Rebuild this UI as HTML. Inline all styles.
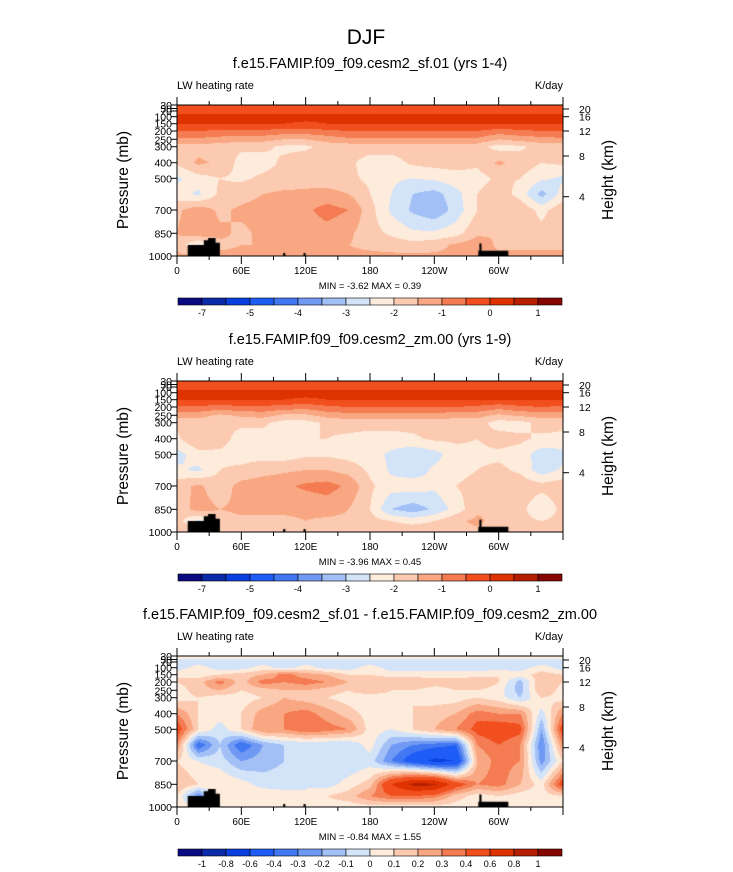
<!DOCTYPE html>
<html><head><meta charset="utf-8"><style>
body{margin:0;background:#fff;width:733px;height:872px;overflow:hidden;position:relative;font-family:"Liberation Sans",sans-serif}
canvas{position:absolute}
svg{position:absolute;left:0;top:0}
</style></head><body>
<canvas id="c1" width="386" height="151" style="left:177px;top:105px"></canvas>
<canvas id="c2" width="386" height="151" style="left:177px;top:381px"></canvas>
<canvas id="c3" width="386" height="151" style="left:177px;top:656px"></canvas>
<svg id="s" width="733" height="872">
<text x="366" y="44" text-anchor="middle" font-size="21">DJF</text>
</svg>
<script>
const lons=[0,20,40,60,80,100,120,140,160,180,200,220,240,260,280,300,320,340,360];
const levs=[30,70,100,150,200,250,300,400,500,600,700,850,925,1000];
const grid1=[
[-0.4,-0.4,-0.4,-0.4,-0.4,-0.4,-0.4,-0.4,-0.4,-0.4,-0.4,-0.4,-0.4,-0.4,-0.4,-0.4,-0.4,-0.4,-0.4],
[-0.2,-0.2,-0.2,-0.2,-0.2,-0.2,-0.2,-0.2,-0.2,-0.2,-0.2,-0.2,-0.2,-0.2,-0.2,-0.2,-0.2,-0.2,-0.2],
[0.2,0.2,0.2,0.2,0.2,0.2,0.2,0.2,0.2,0.2,0.2,0.2,0.2,0.2,0.2,0.2,0.2,0.2,0.2],
[0.05,0.05,0.05,0.05,0.05,0.0,-0.1,0.0,0.05,0.05,0.05,0.05,0.05,0.05,0.05,0.0,0.05,0.05,0.05],
[-0.5,-0.5,-0.6,-0.6,-0.6,-0.7,-0.7,-0.6,-0.5,-0.5,-0.5,-0.5,-0.5,-0.5,-0.5,-0.7,-0.6,-0.5,-0.5],
[-1.1,-1.1,-1.2,-1.3,-1.3,-1.5,-1.5,-1.3,-1.1,-1.1,-1.1,-1.1,-1.1,-1.1,-1.1,-1.5,-1.3,-1.2,-1.1],
[-1.8,-1.7,-1.8,-1.9,-1.9,-2.1,-2.1,-1.8,-1.8,-1.8,-1.8,-1.8,-1.8,-1.8,-1.8,-2.2,-2.1,-1.8,-1.8],
[-1.9,-1.4,-1.6,-2.2,-2.2,-1.9,-1.7,-1.8,-1.9,-2.2,-2.2,-1.9,-1.8,-1.8,-1.9,-1.4,-1.7,-2.0,-1.9],
[-2.6,-2.2,-2.0,-2.1,-1.9,-1.8,-1.7,-1.8,-1.9,-2.1,-2.4,-2.5,-2.4,-2.2,-2.2,-1.9,-2.0,-2.4,-2.6],
[-2.3,-2.6,-1.9,-1.7,-1.5,-1.4,-1.4,-1.3,-1.5,-2.0,-2.5,-3.0,-3.2,-2.7,-2.0,-1.7,-2.2,-3.2,-2.3],
[-1.6,-1.2,-1.6,-1.4,-1.3,-1.2,-1.1,-0.8,-1.0,-1.8,-2.6,-3.1,-3.4,-2.8,-2.0,-1.5,-1.6,-2.2,-1.6],
[-1.5,-1.1,-1.4,-1.6,-1.4,-1.3,-1.3,-1.2,-1.4,-1.8,-2.1,-2.4,-2.4,-2.2,-1.6,-1.5,-1.6,-1.8,-1.5],
[-1.6,-2.6,-1.6,-1.5,-1.5,-1.4,-1.4,-1.4,-1.5,-1.6,-1.7,-1.8,-1.7,-1.4,-1.2,-1.6,-1.6,-1.6,-1.6],
[-1.4,-1.4,-1.4,-1.4,-1.4,-1.4,-1.4,-1.4,-1.4,-1.4,-1.4,-1.4,-1.4,-1.4,-1.4,-1.4,-1.4,-1.4,-1.4]];
const grid2=[
[-0.4,-0.4,-0.4,-0.4,-0.4,-0.4,-0.4,-0.4,-0.4,-0.4,-0.4,-0.4,-0.4,-0.4,-0.4,-0.4,-0.4,-0.4,-0.4],
[-0.2,-0.2,-0.2,-0.2,-0.2,-0.2,-0.2,-0.2,-0.2,-0.2,-0.2,-0.2,-0.2,-0.2,-0.2,-0.2,-0.2,-0.2,-0.2],
[0.2,0.2,0.2,0.2,0.2,0.2,0.2,0.2,0.2,0.2,0.2,0.2,0.2,0.2,0.2,0.2,0.2,0.2,0.2],
[0.05,0.05,0.05,0.05,0.05,0.0,-0.1,0.0,0.05,0.05,0.05,0.05,0.05,0.05,0.05,0.0,0.05,0.05,0.05],
[-0.6,-0.6,-0.7,-0.6,-0.6,-0.7,-0.8,-0.6,-0.5,-0.5,-0.5,-0.5,-0.5,-0.5,-0.6,-0.8,-0.6,-0.5,-0.6],
[-1.3,-1.3,-1.6,-1.4,-1.3,-1.6,-1.6,-1.3,-1.2,-1.2,-1.2,-1.2,-1.2,-1.3,-1.3,-1.6,-1.4,-1.3,-1.3],
[-1.9,-1.8,-1.9,-1.9,-1.9,-2.2,-2.2,-1.9,-1.8,-1.8,-1.8,-1.8,-1.8,-1.8,-1.8,-2.2,-2.2,-1.8,-1.9],
[-2.1,-1.5,-1.8,-2.2,-2.2,-2.1,-2.0,-2.0,-2.1,-2.2,-2.2,-2.1,-1.9,-1.9,-2.0,-1.8,-1.9,-2.1,-2.1],
[-2.7,-2.2,-2.1,-2.2,-2.2,-2.3,-2.1,-2.1,-2.2,-2.3,-2.6,-2.9,-2.7,-2.2,-2.1,-2.1,-2.2,-2.8,-2.7],
[-2.4,-2.6,-2.0,-1.9,-1.7,-1.6,-1.5,-1.5,-1.7,-2.1,-2.6,-2.8,-2.4,-2.2,-2.0,-1.9,-2.1,-2.8,-2.4],
[-1.7,-1.4,-1.8,-1.3,-1.2,-1.1,-0.9,-0.8,-1.1,-1.9,-2.3,-2.2,-2.4,-2.0,-1.8,-1.6,-1.7,-1.8,-1.7],
[-1.8,-1.3,-1.5,-1.4,-1.4,-1.4,-1.4,-1.3,-1.5,-2.0,-3.0,-3.3,-2.9,-2.3,-1.6,-1.5,-1.8,-2.5,-1.8],
[-1.8,-2.6,-1.7,-1.6,-1.6,-1.6,-1.5,-1.6,-1.6,-1.8,-2.0,-2.2,-2.0,-1.6,-1.4,-1.7,-1.8,-2.0,-1.8],
[-1.6,-1.6,-1.6,-1.6,-1.6,-1.6,-1.6,-1.6,-1.6,-1.6,-1.6,-1.6,-1.6,-1.6,-1.6,-1.6,-1.6,-1.6,-1.6]];
const grid3=[
[0.05,0.05,0.05,0.05,0.05,0.05,0.05,0.05,0.05,0.05,0.05,0.05,0.05,0.05,0.05,0.05,0.05,0.05,0.05],
[-0.05,-0.05,-0.05,-0.05,-0.05,-0.05,-0.05,-0.05,-0.05,-0.05,-0.05,-0.05,-0.05,-0.05,-0.05,-0.05,-0.05,-0.05,-0.05],
[-0.05,0.05,-0.05,-0.05,0.05,-0.05,0.05,-0.05,-0.05,0.05,-0.05,-0.05,-0.05,-0.05,-0.05,-0.05,-0.05,0.05,-0.05],
[0.1,0.05,0.1,0.15,0.2,0.35,0.25,0.2,0.1,0.1,0.05,0.05,0.05,0.05,0.05,0.1,0.05,0.15,0.1],
[0.1,0.15,0.35,0.15,0.35,0.3,0.35,0.3,0.2,0.2,0.2,0.2,0.15,0.15,0.2,0.1,-0.15,0.2,0.1],
[0.05,0.15,0.2,0.1,0.15,0.2,0.2,0.15,0.1,0.2,0.1,0.1,0.05,0.1,0.1,0.05,-0.15,0.2,0.05],
[0.05,0.1,0.05,0.05,0.1,0.2,0.15,0.1,0.05,0.0,0.05,0.1,0.05,0.05,0.1,0.05,-0.1,0.1,0.05],
[0.3,0.1,0.05,0.1,0.25,0.3,0.35,0.25,0.15,0.05,0.05,0.1,0.15,0.2,0.35,0.3,0.3,-0.05,0.3],
[0.5,0.1,-0.05,0.1,0.3,0.3,0.4,0.35,0.3,0.05,0.0,0.1,0.2,0.3,0.45,0.5,0.45,-0.2,0.5],
[0.3,-0.4,-0.1,-0.4,-0.2,-0.1,-0.1,-0.1,-0.1,0.05,-0.2,-0.3,-0.35,-0.4,0.3,0.4,0.3,-0.3,0.3],
[0.1,0.0,-0.05,-0.2,-0.15,-0.1,-0.05,-0.1,-0.1,-0.05,-0.3,-0.5,-0.65,-0.6,0.2,0.35,0.3,-0.25,0.1],
[0.2,0.1,0.1,0.05,-0.05,-0.05,0.0,-0.05,0.05,0.15,0.6,0.85,0.85,0.5,0.3,0.35,0.2,0.05,0.5],
[0.1,-0.3,0.1,0.1,0.1,0.05,0.0,0.1,0.15,0.3,0.4,0.4,0.35,0.15,0.05,0.1,0.05,0.05,0.1],
[0.05,0.05,0.05,0.05,0.05,0.05,0.05,0.05,0.05,0.05,0.05,0.05,0.05,0.05,0.05,0.05,0.05,0.05,0.05]];
const levels1=[-7,-6,-5,-4.5,-4,-3.5,-3,-2.5,-2,-1.5,-1,-0.5,0,0.5,1];
const cbLabels1=["-7","","-5","","-4","","-3","","-2","","-1","","0","","1"];
const levels3=[-1,-0.8,-0.6,-0.4,-0.3,-0.2,-0.1,0,0.1,0.2,0.3,0.4,0.6,0.8,1];
const cbLabels3=["-1","-0.8","-0.6","-0.4","-0.3","-0.2","-0.1","0","0.1","0.2","0.3","0.4","0.6","0.8","1"];
const topoLon=[10,10,25,25,29,29,36,36,40,40,99,99,101,101,118,118,120,120,281,281,282,282,284,284,309,309];
const topoP=[1000,925,925,895,895,880,880,910,910,1000,1000,980,980,1000,1000,980,980,1000,1000,965,965,915,915,965,965,1000];
const pTickVals=[30,50,70,100,150,200,250,300,400,500,700,850,1000];
const hTicks=[20,16,12,8,4];
const hTickY=[4,11.7,26,51,91.7];
const lonTickLabels=["0","60E","120E","180","120W","60W"];
const colors=["#0a0a82","#0b2aa8","#0a3fe0","#1f5cf5","#4277f2","#6f99f3","#a3c0f6","#d3e4f8","#fdebdc","#fccab0","#f9a782","#f47b52","#f24f1e","#de3300","#b51f00","#850500"];
const PT=[30,50,70,100,150,200,250,300,400,500,600,700,850,925,1000];
const PY=[0,3.5,6,11.7,18.7,26,34.3,41.7,57.7,73.3,89,105,128.3,140,151];
function yOfP(p){for(let i=0;i<PT.length-1;i++){if(p<=PT[i+1]){const f=(p-PT[i])/(PT[i+1]-PT[i]);return PY[i]+f*(PY[i+1]-PY[i]);}}return 151;}
function xOfLon(l){return l/360*386;}
function draw(id,grid,levels){
 const c=document.getElementById(id),ctx=c.getContext('2d'),W=386,H=151,img=ctx.createImageData(W,H);
 const rowY=levs.map(yOfP);
 const rgb=colors.map(h=>[parseInt(h.substr(1,2),16),parseInt(h.substr(3,2),16),parseInt(h.substr(5,2),16)]);
 for(let y=0;y<H;y++){
  let r=0;while(r<rowY.length-2&&y+0.5>rowY[r+1])r++;
  let fy=(y+0.5-rowY[r])/(rowY[r+1]-rowY[r]);fy=Math.max(0,Math.min(1,fy));
  for(let x=0;x<W;x++){
   const lon=(x+0.5)/W*360;let ci=Math.min(lons.length-2,Math.floor(lon/20));const fx=(lon-lons[ci])/20;
   const v=(grid[r][ci]*(1-fx)+grid[r][ci+1]*fx)*(1-fy)+(grid[r+1][ci]*(1-fx)+grid[r+1][ci+1]*fx)*fy;
   let k=0;while(k<levels.length&&v>=levels[k])k++;
   const o=(y*W+x)*4;img.data[o]=rgb[k][0];img.data[o+1]=rgb[k][1];img.data[o+2]=rgb[k][2];img.data[o+3]=255;
  }}
 ctx.putImageData(img,0,0);
 ctx.fillStyle='#000';ctx.beginPath();
 for(let i=0;i<topoLon.length;i++){const X=xOfLon(topoLon[i]),Y=yOfP(topoP[i]);i?ctx.lineTo(X,Y):ctx.moveTo(X,Y);}
 ctx.closePath();ctx.fill();
}
draw('c1',grid1,levels1);draw('c2',grid2,levels1);draw('c3',grid3,levels3);
const S=document.getElementById('s'),NS='http://www.w3.org/2000/svg';
function el(t,a,txt){const e=document.createElementNS(NS,t);for(const k in a)e.setAttribute(k,a[k]);if(txt!==undefined)e.textContent=txt;S.appendChild(e);return e;}
const panels=[
 {top:105,title:"f.e15.FAMIP.f09_f09.cesm2_sf.01 (yrs 1-4)",mm:"MIN =  -3.62  MAX =   0.39",lv:levels1,lab:cbLabels1},
 {top:381,title:"f.e15.FAMIP.f09_f09.cesm2_zm.00 (yrs 1-9)",mm:"MIN =  -3.96  MAX =   0.45",lv:levels1,lab:cbLabels1},
 {top:656,title:"f.e15.FAMIP.f09_f09.cesm2_sf.01 - f.e15.FAMIP.f09_f09.cesm2_zm.00",mm:"MIN =  -0.84  MAX =   1.55",lv:levels3,lab:cbLabels3}];
const L=177,R=563;
panels.forEach((p,pi)=>{
 const T=p.top,B=T+151;
 let e=el('text',{x:370,y:T-37,'text-anchor':'middle','font-size':14.5},p.title);
 
 e=el('text',{x:L,y:T-16,'font-size':11},"LW heating rate");
 
 e=el('text',{x:R,y:T-16,'font-size':11,'text-anchor':'end'},"K/day");
 
 e=el('rect',{x:L,y:T,width:R-L,height:151,fill:'none',stroke:'#000','stroke-width':1});
 
 for(let lon=0;lon<=360;lon+=30){const X=L+xOfLon(lon),len=lon%60?4:8;
  e=el('line',{x1:X,x2:X,y1:T,y2:T-len,stroke:'#000'});
  e=el('line',{x1:X,x2:X,y1:B,y2:B+len,stroke:'#000'});}
 lonTickLabels.forEach((t,i)=>{e=el('text',{x:L+xOfLon(i*60),y:B+18,'text-anchor':'middle','font-size':10},t);
  });
 pTickVals.forEach(v=>{const Y=T+yOfP(v);
  e=el('line',{x1:L,x2:L-6,y1:Y,y2:Y,stroke:'#000'});
  e=el('text',{x:L-5,y:Y+4,'text-anchor':'end','font-size':10.5},String(v));});
 hTicks.forEach((h,i)=>{const Y=T+hTickY[i];
  e=el('line',{x1:R,x2:R+6,y1:Y,y2:Y,stroke:'#000'});
  e=el('text',{x:R+16,y:Y+4,'font-size':10.5},String(h));});
 e=el('text',{x:0,y:0,'font-size':15.5,'text-anchor':'middle',transform:`translate(128,${T+75}) rotate(-90)`},"Pressure (mb)");
 
 e=el('text',{x:0,y:0,'font-size':15.5,'text-anchor':'middle',transform:`translate(613,${T+75}) rotate(-90)`},"Height (km)");
 
 e=el('text',{x:370,y:B+33,'text-anchor':'middle','font-size':9.5},p.mm);
 
 const cy=B+42,bw=(562-178)/16;
 colors.forEach((c,i)=>{e=el('rect',{x:178+i*bw,y:cy,width:bw,height:7,fill:c,stroke:'#000','stroke-width':0.6});
  });
 p.lab.forEach((t,i)=>{if(!t)return;e=el('text',{x:178+(i+1)*bw,y:cy+18,'text-anchor':'middle','font-size':9},t);
  });
});
</script>
</body></html>
